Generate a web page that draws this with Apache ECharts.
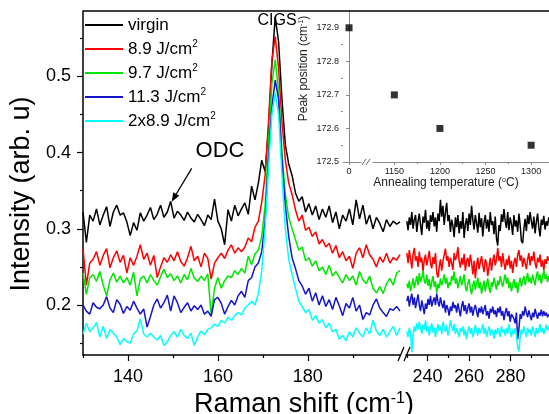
<!DOCTYPE html>
<html><head><meta charset="utf-8">
<script src="https://cdn.jsdelivr.net/npm/echarts@6/dist/echarts.min.js"></script>
<style>html,body{margin:0;padding:0;background:#fff}#c{width:549px;height:414px}</style>
</head><body><div id="c"></div>
<script>
// ---- data ----
const seriesNames = ['virgin', '8.9 J/cm²', '9.7 J/cm²', '11.3 J/cm²', '2x8.9 J/cm²'];
const seriesColors = ['#000000', '#ff0000', '#00e600', '#1414c8', '#00ffff'];
// Raman shift sampling (cm-1) of the two spectral windows
const leftStart = 130, leftStep = 0.75;
const rightStart = 230, rightStep = 0.6;

const virginLeft = [0.322,0.282,0.318,0.31,0.326,0.305,0.318,0.329,0.303,0.322,
 0.331,0.318,0.321,0.309,0.291,0.308,0.298,0.321,0.31,0.318,
 0.328,0.312,0.319,0.331,0.315,0.322,0.336,0.314,0.323,0.318,
 0.311,0.322,0.314,0.309,0.319,0.312,0.304,0.318,0.312,0.339,
 0.31,0.3,0.279,0.325,0.31,0.331,0.317,0.326,0.334,0.319,
 0.356,0.338,0.36,0.39,0.375,0.43,0.515,0.578,0.545,0.47,
 0.41,0.385,0.37,0.347,0.336,0.342,0.322,0.333,0.318,0.33,
 0.312,0.326,0.315,0.33,0.308,0.322,0.3,0.318,0.31,0.326,
 0.305,0.338,0.313,0.331,0.306,0.318,0.3,0.315,0.307,0.296,
 0.312,0.303,0.31,0.306,0.309];
const f89Left = [0.274,0.226,0.255,0.26,0.27,0.252,0.265,0.274,0.249,0.262,
 0.271,0.256,0.265,0.242,0.262,0.252,0.264,0.279,0.26,0.268,
 0.252,0.265,0.236,0.25,0.262,0.256,0.266,0.258,0.27,0.257,
 0.251,0.262,0.277,0.258,0.264,0.25,0.268,0.261,0.234,0.255,
 0.262,0.268,0.261,0.272,0.279,0.268,0.275,0.27,0.276,0.288,
 0.283,0.302,0.31,0.335,0.37,0.44,0.52,0.552,0.51,0.44,
 0.39,0.36,0.345,0.325,0.31,0.318,0.298,0.302,0.29,0.296,
 0.28,0.286,0.276,0.281,0.268,0.278,0.262,0.27,0.258,0.264,
 0.248,0.268,0.275,0.262,0.279,0.266,0.26,0.25,0.263,0.256,
 0.268,0.255,0.262,0.259,0.266];
const f97Left = [0.242,0.214,0.236,0.24,0.231,0.244,0.226,0.212,0.233,0.242,
 0.23,0.238,0.229,0.236,0.226,0.243,0.212,0.234,0.238,0.229,
 0.24,0.232,0.226,0.237,0.247,0.236,0.241,0.232,0.238,0.229,
 0.24,0.233,0.248,0.235,0.231,0.238,0.232,0.241,0.186,0.222,
 0.236,0.222,0.232,0.238,0.236,0.245,0.24,0.248,0.242,0.264,
 0.253,0.267,0.272,0.29,0.33,0.41,0.49,0.522,0.48,0.4,
 0.345,0.315,0.3,0.286,0.272,0.276,0.258,0.262,0.251,0.258,
 0.245,0.25,0.24,0.252,0.238,0.244,0.236,0.229,0.24,0.232,
 0.238,0.226,0.244,0.233,0.228,0.238,0.222,0.216,0.224,0.215,
 0.228,0.235,0.226,0.242,0.245];
const f113Left = [0.2,0.192,0.188,0.203,0.197,0.195,0.2,0.211,0.196,0.19,
 0.207,0.201,0.189,0.198,0.193,0.205,0.196,0.188,0.195,0.171,
 0.185,0.2,0.208,0.196,0.203,0.213,0.192,0.212,0.203,0.19,
 0.197,0.203,0.192,0.199,0.194,0.2,0.188,0.192,0.185,0.207,
 0.21,0.202,0.188,0.198,0.206,0.2,0.212,0.218,0.21,0.232,
 0.236,0.25,0.255,0.27,0.31,0.39,0.46,0.495,0.47,0.39,
 0.33,0.29,0.262,0.248,0.232,0.225,0.214,0.222,0.205,0.216,
 0.2,0.212,0.198,0.207,0.194,0.21,0.199,0.186,0.202,0.196,
 0.21,0.192,0.2,0.181,0.19,0.187,0.2,0.208,0.196,0.19,
 0.185,0.195,0.193,0.198,0.192];
const f2x89Left = [0.162,0.176,0.165,0.17,0.177,0.158,0.172,0.156,0.168,0.163,
 0.158,0.148,0.156,0.152,0.15,0.162,0.166,0.182,0.162,0.158,
 0.163,0.158,0.154,0.16,0.147,0.152,0.16,0.165,0.158,0.168,
 0.16,0.156,0.163,0.147,0.158,0.166,0.161,0.168,0.17,0.175,
 0.172,0.18,0.176,0.184,0.18,0.186,0.19,0.187,0.196,0.2,
 0.205,0.2,0.215,0.245,0.3,0.38,0.45,0.479,0.45,0.37,
 0.3,0.26,0.24,0.222,0.205,0.198,0.19,0.194,0.18,0.186,
 0.176,0.181,0.17,0.176,0.165,0.168,0.155,0.16,0.153,0.165,
 0.158,0.17,0.163,0.158,0.17,0.162,0.18,0.166,0.16,0.168,
 0.158,0.165,0.172,0.16,0.17];

const virginRight = [0.31,0.298,0.315,0.305,0.322,0.3,0.312,0.318,0.296,0.31,
 0.32,0.305,0.292,0.316,0.308,0.325,0.3,0.311,0.297,0.318,
 0.309,0.322,0.303,0.315,0.296,0.32,0.31,0.338,0.316,0.33,
 0.305,0.322,0.334,0.31,0.318,0.296,0.312,0.304,0.289,0.315,
 0.302,0.318,0.294,0.31,0.3,0.322,0.288,0.306,0.314,0.297,
 0.32,0.305,0.33,0.312,0.299,0.318,0.307,0.295,0.321,0.302,
 0.314,0.29,0.309,0.318,0.3,0.312,0.296,0.322,0.305,0.31,
 0.293,0.316,0.287,0.278,0.305,0.297,0.319,0.309,0.326,0.31,
 0.301,0.322,0.298,0.315,0.306,0.292,0.318,0.303,0.311,0.296,
 0.32,0.305,0.284,0.281,0.3,0.313,0.297,0.318,0.306,0.322,
 0.31,0.3,0.316,0.294,0.309,0.32,0.302,0.29,0.312,0.305,
 0.317,0.299,0.31,0.304,0.315];
const f89Right = [0.268,0.255,0.272,0.26,0.248,0.266,0.275,0.258,0.264,0.25,
 0.27,0.256,0.262,0.244,0.259,0.266,0.252,0.26,0.271,0.255,
 0.248,0.263,0.254,0.268,0.242,0.236,0.25,0.26,0.245,0.257,
 0.266,0.274,0.258,0.264,0.25,0.262,0.255,0.246,0.268,0.259,
 0.264,0.276,0.258,0.249,0.262,0.253,0.267,0.245,0.258,0.262,
 0.25,0.266,0.256,0.24,0.258,0.235,0.252,0.262,0.247,0.256,
 0.264,0.252,0.243,0.26,0.255,0.238,0.25,0.262,0.245,0.258,
 0.266,0.252,0.26,0.275,0.258,0.264,0.25,0.268,0.255,0.246,
 0.26,0.252,0.265,0.248,0.258,0.242,0.256,0.262,0.25,0.266,
 0.272,0.258,0.265,0.25,0.262,0.255,0.247,0.26,0.268,0.252,
 0.264,0.258,0.27,0.255,0.248,0.262,0.256,0.266,0.25,0.259,
 0.245,0.26,0.254,0.264,0.258];
const f97Right = [0.228,0.222,0.232,0.218,0.226,0.235,0.222,0.23,0.238,0.226,
 0.242,0.23,0.236,0.245,0.232,0.228,0.24,0.225,0.234,0.22,
 0.23,0.238,0.224,0.231,0.216,0.228,0.222,0.235,0.226,0.232,
 0.24,0.228,0.236,0.222,0.23,0.226,0.238,0.232,0.244,0.228,
 0.235,0.222,0.23,0.238,0.226,0.232,0.24,0.224,0.218,0.228,
 0.234,0.222,0.214,0.226,0.232,0.22,0.228,0.236,0.222,0.23,
 0.215,0.224,0.232,0.218,0.228,0.235,0.222,0.216,0.23,0.224,
 0.236,0.228,0.22,0.232,0.226,0.238,0.23,0.224,0.233,0.24,
 0.228,0.236,0.222,0.23,0.218,0.226,0.234,0.222,0.23,0.216,
 0.228,0.236,0.224,0.232,0.238,0.226,0.234,0.242,0.23,0.236,
 0.228,0.24,0.232,0.226,0.238,0.244,0.232,0.24,0.228,0.236,
 0.246,0.234,0.24,0.23,0.238];
const f113Right = [0.205,0.212,0.198,0.208,0.215,0.2,0.21,0.196,0.205,0.214,
 0.2,0.192,0.206,0.198,0.188,0.202,0.195,0.208,0.2,0.212,
 0.198,0.205,0.21,0.2,0.215,0.204,0.198,0.21,0.202,0.196,
 0.206,0.19,0.2,0.195,0.186,0.198,0.192,0.204,0.196,0.2,
 0.19,0.202,0.194,0.185,0.198,0.205,0.192,0.2,0.188,0.196,
 0.202,0.19,0.198,0.186,0.195,0.2,0.192,0.184,0.196,0.19,
 0.198,0.188,0.194,0.2,0.186,0.192,0.182,0.195,0.19,0.198,
 0.188,0.193,0.184,0.196,0.19,0.198,0.186,0.192,0.18,0.19,
 0.196,0.185,0.192,0.178,0.188,0.19,0.182,0.176,0.19,0.155,
 0.168,0.188,0.182,0.192,0.186,0.198,0.19,0.184,0.193,0.186,
 0.18,0.19,0.184,0.195,0.188,0.182,0.19,0.186,0.194,0.185,
 0.192,0.186,0.19,0.184,0.188];
const f2x89Right = [0.165,0.158,0.17,0.162,0.138,0.16,0.172,0.165,0.176,0.168,
 0.178,0.17,0.162,0.174,0.168,0.18,0.165,0.172,0.16,0.17,
 0.176,0.164,0.17,0.158,0.168,0.175,0.166,0.172,0.162,0.178,
 0.17,0.165,0.174,0.16,0.168,0.18,0.172,0.166,0.175,0.162,
 0.17,0.164,0.158,0.17,0.165,0.172,0.16,0.168,0.155,0.166,
 0.172,0.162,0.17,0.158,0.165,0.174,0.166,0.16,0.17,0.163,
 0.168,0.175,0.162,0.17,0.158,0.166,0.172,0.16,0.168,0.164,
 0.156,0.168,0.162,0.17,0.165,0.158,0.172,0.164,0.168,0.16,
 0.17,0.162,0.175,0.165,0.158,0.168,0.162,0.17,0.16,0.145,
 0.139,0.158,0.168,0.162,0.172,0.165,0.158,0.17,0.163,0.168,
 0.16,0.172,0.165,0.158,0.17,0.162,0.168,0.175,0.164,0.17,
 0.162,0.168,0.174,0.166,0.172];

// inset: CIGS peak position vs annealing temperature (0 = virgin)
const annealTemp = [0, 1150, 1200, 1300];
const peakPosition = [172.9, 172.7, 172.6, 172.55];

// tick labels
const mainYTicks = [0.2, 0.3, 0.4, 0.5];
const mainYMinor = [0.15, 0.25, 0.35, 0.45, 0.55];
const leftXTicks = [140, 160, 180];
const leftXMinor = [130, 150, 170, 190];
const rightXTicks = [240, 260, 280];
const rightXMinor = [230, 250, 270, 290];
const insetYTicks = [172.5, 172.6, 172.7, 172.8, 172.9];
const insetYMinor = [172.55, 172.65, 172.75, 172.85];
const insetXTicksLow = [0];
const insetXTicksHigh = [1150, 1200, 1250, 1300];
const insetXMinor = [1175, 1225, 1275];

// ---- build ----
const leftSets = [virginLeft, f89Left, f97Left, f113Left, f2x89Left];
const rightSets = [virginRight, f89Right, f97Right, f113Right, f2x89Right];
const xLeft = virginLeft.map((_, i) => +(leftStart + i * leftStep).toFixed(2));
const xRight = virginRight.map((_, i) => +(rightStart + i * rightStep).toFixed(2));

const FONT = 'Liberation Sans, Arial, sans-serif';
const plain = v => String(v);

function tickAxis(gridIndex, position, min, max, labels, ticks, len, opts) {
  return Object.assign({
    type: 'value', gridIndex, position, min, max,
    splitLine: { show: false },
    axisLine: { show: true, lineStyle: { color: '#000', width: 1.5 } },
    axisTick: { show: true, customValues: ticks, length: len, lineStyle: { color: '#000', width: 1.2 } },
    axisLabel: labels ? { show: true, customValues: labels, formatter: plain, color: '#000', fontSize: 18, fontFamily: FONT } : { show: false },
  }, opts || {});
}

const yMin = 0.1344, yMax = 0.5857;
const inMinY = 172.5, inMaxY = 172.95;
const inset = { line: { color: '#888', width: 1 }, label: { color: '#222', fontSize: 9, fontFamily: FONT, formatter: plain } };

const xAxis = [
  tickAxis(0, 'bottom', 130, 200.5, leftXTicks, leftXTicks, 6, {
    axisLabel: { customValues: leftXTicks, formatter: plain, color: '#000', fontSize: 18, fontFamily: FONT, margin: 13 },
    name: 'Raman shift (cm{sup|-1})', nameLocation: 'middle', nameGap: 29,
    nameTextStyle: { fontSize: 27, color: '#000', fontFamily: FONT, padding: [0, 0, 0, 125], rich: { sup: { fontSize: 16, verticalAlign: 'top', lineHeight: 16, fontFamily: FONT, color: '#000' } } }
  }),
  tickAxis(0, 'bottom', 130, 200.5, null, leftXMinor, 3, { axisLine: { show: false } }),
  tickAxis(1, 'bottom', 229.6, 298.5, rightXTicks, rightXTicks, 6, {
    axisLabel: { customValues: rightXTicks, formatter: plain, color: '#000', fontSize: 18, fontFamily: FONT, margin: 13 }
  }),
  tickAxis(1, 'bottom', 229.6, 298.5, null, rightXMinor, 3, { axisLine: { show: false } }),
  // inset
  tickAxis(2, 'bottom', -6.6, 13.1, insetXTicksLow, insetXTicksLow, 3, {
    axisLine: { lineStyle: inset.line }, axisTick: { customValues: insetXTicksLow, length: 3, lineStyle: inset.line },
    axisLabel: Object.assign({ customValues: insetXTicksLow, margin: 5 }, inset.label)
  }),
  tickAxis(3, 'bottom', 1126.6, 1319.6, insetXTicksHigh, insetXTicksHigh, 3, {
    axisLine: { lineStyle: inset.line }, axisTick: { customValues: insetXTicksHigh, length: 3, lineStyle: inset.line },
    axisLabel: Object.assign({ customValues: insetXTicksHigh, margin: 5 }, inset.label),
    name: 'Annealing temperature ({sup|o}C)', nameLocation: 'middle', nameGap: 15,
    nameTextStyle: { fontSize: 12, color: '#222', fontFamily: FONT, padding: [0, 30, 0, 0], rich: { sup: { fontSize: 7, verticalAlign: 'top', lineHeight: 8, fontFamily: FONT, color: '#222' } } }
  }),
  tickAxis(3, 'bottom', 1126.6, 1319.6, null, insetXMinor, 2, { axisLine: { show: false }, axisTick: { customValues: insetXMinor, length: 2, lineStyle: inset.line } })
];

const yAxis = [
  tickAxis(0, 'left', yMin, yMax, mainYTicks, mainYTicks, 6, {
    axisLabel: { customValues: mainYTicks, formatter: plain, color: '#000', fontSize: 18, fontFamily: FONT, margin: 12 },
    name: 'Intensity (arb. u)', nameLocation: 'middle', nameGap: 48, nameRotate: 90,
    nameTextStyle: { fontSize: 27, color: '#000', fontFamily: FONT, padding: [0, 22, 0, 0] }
  }),
  tickAxis(0, 'left', yMin, yMax, null, mainYMinor, 3, { axisLine: { show: false } }),
  { type: 'value', gridIndex: 1, min: yMin, max: yMax, show: false },
  tickAxis(2, 'left', inMinY, inMaxY, insetYTicks, insetYTicks, 3, {
    axisLine: { lineStyle: inset.line }, axisTick: { customValues: insetYTicks, length: 3, lineStyle: inset.line },
    axisLabel: Object.assign({ customValues: insetYTicks, margin: 4 }, inset.label),
    name: 'Peak position (cm{sup|-1})', nameLocation: 'middle', nameGap: 33, nameRotate: 90,
    nameTextStyle: { fontSize: 12, color: '#222', fontFamily: FONT, padding: [0, 0, 0, 36], rich: { sup: { fontSize: 7, verticalAlign: 'top', lineHeight: 8, fontFamily: FONT, color: '#222' } } }
  }),
  tickAxis(2, 'left', inMinY, inMaxY, null, insetYMinor, 2, { axisLine: { show: false }, axisTick: { customValues: insetYMinor, length: 2, lineStyle: inset.line } }),
  { type: 'value', gridIndex: 3, min: inMinY, max: inMaxY, show: false }
];

const series = [];
seriesNames.forEach((name, k) => {
  const ls = { color: seriesColors[k], width: 1.5 };
  series.push({ type: 'line', name, xAxisIndex: 0, yAxisIndex: 0, symbol: 'none', lineStyle: ls, itemStyle: { color: seriesColors[k] },
    data: xLeft.map((x, i) => [x, leftSets[k][i]]), z: 2 + k });
  series.push({ type: 'line', name, xAxisIndex: 2, yAxisIndex: 2, symbol: 'none', lineStyle: ls, itemStyle: { color: seriesColors[k] },
    data: xRight.map((x, i) => [x, rightSets[k][i]]), z: 2 + k });
});
const lowPts = [], highPts = [];
annealTemp.forEach((t, i) => (t < 1000 ? lowPts : highPts).push([t, peakPosition[i]]));
series.push({ type: 'scatter', name: 'peak-low', xAxisIndex: 4, yAxisIndex: 3, symbol: 'rect', symbolSize: 7, itemStyle: { color: '#000' }, data: lowPts });
series.push({ type: 'scatter', name: 'peak-high', xAxisIndex: 5, yAxisIndex: 5, symbol: 'rect', symbolSize: 7, itemStyle: { color: '#000' }, data: highPts });

const G = { outerBoundsMode: 'none', containLabel: false };
const chart = echarts.init(document.getElementById('c'), null, { renderer: 'canvas' });
chart.setOption({
  animation: false,
  backgroundColor: '#fff',
  textStyle: { fontFamily: FONT },
  grid: [
    Object.assign({ left: 83, top: 11, width: 317, height: 344 }, G),
    Object.assign({ left: 406, top: 11, width: 143, height: 344 }, G),
    Object.assign({ left: 343, top: 11, width: 18, height: 151 }, G),
    Object.assign({ left: 373, top: 11, width: 176, height: 151 }, G)
  ],
  legend: {
    data: seriesNames, orient: 'vertical', left: 85, top: 15, padding: 0,
    icon: 'rect', itemWidth: 38, itemHeight: 2, itemGap: 4,
    formatter: n => n.replace('²', '{sup|2}'),
    textStyle: { fontSize: 17, lineHeight: 20, color: '#000', fontFamily: FONT,
      rich: { sup: { fontSize: 10, verticalAlign: 'top', lineHeight: 20, fontFamily: FONT, color: '#000' } } }
  },
  xAxis, yAxis, series,
  graphic: [
    { type: 'line', shape: { x1: 83, y1: 11, x2: 549, y2: 11 }, style: { stroke: '#000', lineWidth: 1.5 }, z: 100 },
    // axis break marks
    { type: 'line', shape: { x1: 398, y1: 361, x2: 404, y2: 347 }, style: { stroke: '#000', lineWidth: 1.3 }, z: 100 },
    { type: 'line', shape: { x1: 404, y1: 361, x2: 410, y2: 347 }, style: { stroke: '#000', lineWidth: 1.3 }, z: 100 },
    { type: 'line', shape: { x1: 362, y1: 165, x2: 366, y2: 159 }, style: { stroke: '#555', lineWidth: 0.9 }, z: 100 },
    { type: 'line', shape: { x1: 366, y1: 165, x2: 370, y2: 159 }, style: { stroke: '#555', lineWidth: 0.9 }, z: 100 },
    // annotations
    { type: 'text', x: 277, y: 21, style: { text: 'CIGS', fontSize: 16, fill: '#000', fontFamily: FONT, align: 'center', verticalAlign: 'middle' }, z: 100 },
    { type: 'text', x: 220, y: 151, style: { text: 'ODC', fontSize: 22, fill: '#000', fontFamily: FONT, align: 'center', verticalAlign: 'middle' }, z: 100 },
    { type: 'line', shape: { x1: 191.7, y1: 168.3, x2: 176.3, y2: 194 }, style: { stroke: '#000', lineWidth: 1.3 }, z: 100 },
    { type: 'polygon', shape: { points: [[171.7, 201.7], [179.3, 195.8], [173.3, 192.2]] }, style: { fill: '#000' }, z: 100 }
  ]
});
</script></body></html>
